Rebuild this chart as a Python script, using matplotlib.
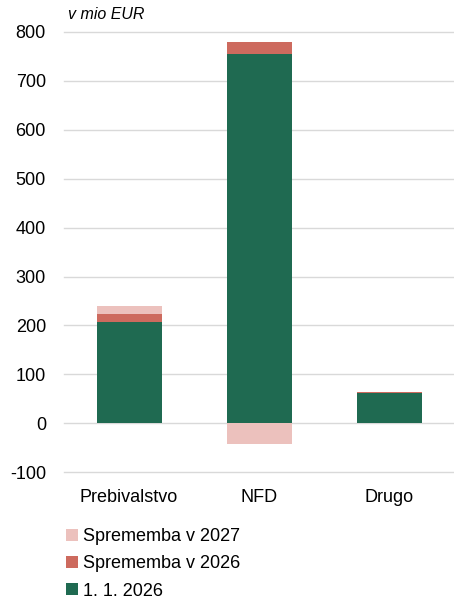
import matplotlib
matplotlib.use("Agg")
import matplotlib.pyplot as plt
import numpy as np

categories = ["Prebivalstvo", "NFD", "Drugo"]
base_2026 = [207, 755, 63]
change_2026 = [16, 24, 1.5]
change_2027 = [16, -42, 0.5]

labels = ["1. 1. 2026", "Sprememba v 2026", "Sprememba v 2027"]
colors = ["#1f6a51", "#cd6a5e", "#ecc1bd"]

plt.rcParams["font.family"] = ["Liberation Sans", "DejaVu Sans"]
plt.rcParams["axes.unicode_minus"] = False

fig = plt.figure(figsize=(4.54, 5.99), dpi=100)
ax = fig.add_axes([0.141, 0.2115, 0.859, 0.7355])

x = np.arange(len(categories))
w = 0.5
base = np.array(base_2026, dtype=float)
c26 = np.array(change_2026, dtype=float)
c27 = np.array(change_2027, dtype=float)

h1 = ax.bar(x, base, w, color=colors[0], label=labels[0], zorder=3)
h2 = ax.bar(x, c26, w, bottom=base, color=colors[1], label=labels[1], zorder=3)
# positive 2027 changes stack on top, negative ones hang below zero
bottom27 = np.where(c27 >= 0, base + c26, 0)
h3 = ax.bar(x, c27, w, bottom=bottom27, color=colors[2], label=labels[2], zorder=3)

ax.set_xlim(-0.5, 2.5)
ax.set_ylim(-100, 800)
ax.set_yticks(np.arange(-100, 801, 100))
ax.set_xticks(x)
ax.set_xticklabels(categories)
ax.grid(axis="y", color="#d9d9d9", linewidth=1.0, zorder=0)
for gl in ax.get_ygridlines():
    gl.set_clip_on(False)
ax.tick_params(axis="both", length=0, labelsize=13)
ax.tick_params(axis="x", pad=12)
ax.tick_params(axis="y", pad=13)
for s in ax.spines.values():
    s.set_visible(False)

fig.text(68 / 454, 1 - 19 / 599, "v mio EUR", fontsize=11.5, style="italic",
         ha="left", va="baseline")

fig.legend([h3, h2, h1], [labels[2], labels[1], labels[0]],
           loc="upper left", bbox_to_anchor=(66 / 454, 1 - 528 / 599),
           bbox_transform=fig.transFigure,
           frameon=False, fontsize=13, handlelength=0.65, handleheight=0.65,
           handletextpad=0.3, labelspacing=0.57, borderaxespad=0,
           borderpad=0)

fig.savefig("out.png", dpi=100)
